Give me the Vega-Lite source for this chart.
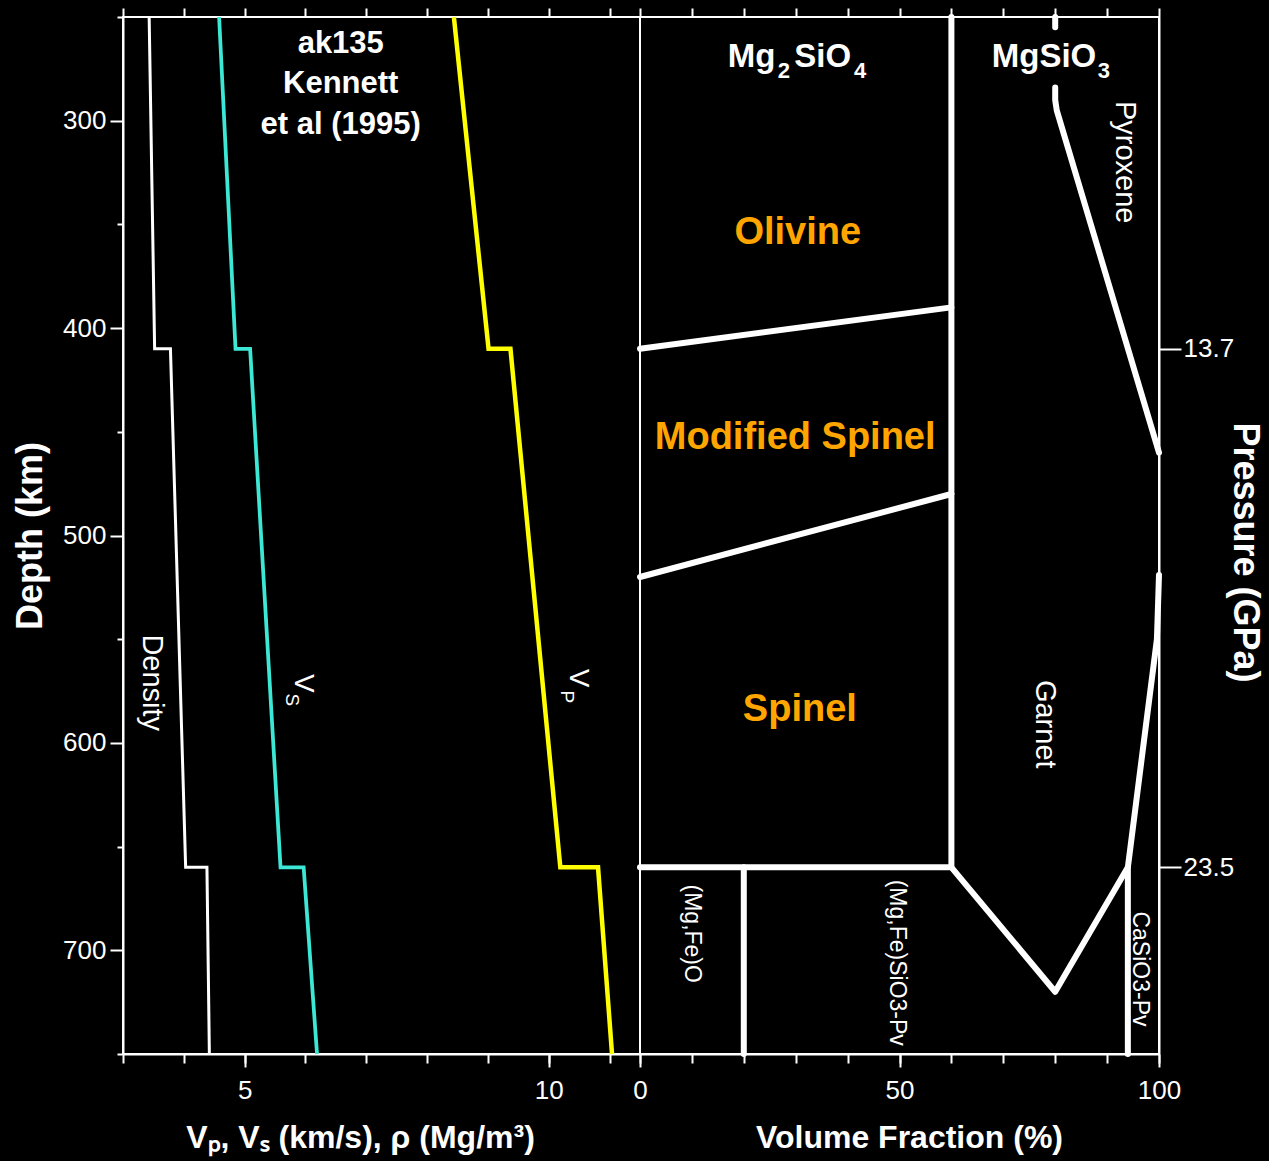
{
  "$schema": "https://vega.github.io/schema/vega-lite/v6.json",
  "background": "black",
  "padding": {"left": 11, "top": 6, "right": 8, "bottom": 8},
  "spacing": 0,
  "bounds": "flush",
  "datasets": {
    "profiles": [
      {"s": "Density", "o": 1, "x": 3.43, "d": 250},
      {"s": "Density", "o": 2, "x": 3.52, "d": 410},
      {"s": "Density", "o": 3, "x": 3.78, "d": 410},
      {"s": "Density", "o": 4, "x": 4.03, "d": 660},
      {"s": "Density", "o": 5, "x": 4.38, "d": 660},
      {"s": "Density", "o": 6, "x": 4.42, "d": 750},
      {"s": "Vs", "o": 1, "x": 4.58, "d": 250},
      {"s": "Vs", "o": 2, "x": 4.85, "d": 410},
      {"s": "Vs", "o": 3, "x": 5.09, "d": 410},
      {"s": "Vs", "o": 4, "x": 5.59, "d": 660},
      {"s": "Vs", "o": 5, "x": 5.97, "d": 660},
      {"s": "Vs", "o": 6, "x": 6.19, "d": 750},
      {"s": "Vp", "o": 1, "x": 8.44, "d": 250},
      {"s": "Vp", "o": 2, "x": 9.01, "d": 410},
      {"s": "Vp", "o": 3, "x": 9.37, "d": 410},
      {"s": "Vp", "o": 4, "x": 10.19, "d": 660},
      {"s": "Vp", "o": 5, "x": 10.81, "d": 660},
      {"s": "Vp", "o": 6, "x": 11.04, "d": 750}
    ],
    "phase": [
      {"g": "A", "o": 1, "x": 0, "d": 660},
      {"g": "A", "o": 2, "x": 60, "d": 660},
      {"g": "A", "o": 3, "x": 80, "d": 720},
      {"g": "A", "o": 4, "x": 94, "d": 660},
      {"g": "A", "o": 5, "x": 99.6, "d": 550},
      {"g": "A", "o": 6, "x": 100, "d": 519},
      {"g": "B", "o": 1, "x": 60, "d": 250},
      {"g": "B", "o": 2, "x": 60, "d": 660},
      {"g": "C", "o": 1, "x": 0, "d": 410},
      {"g": "C", "o": 2, "x": 60, "d": 390},
      {"g": "D", "o": 1, "x": 0, "d": 520},
      {"g": "D", "o": 2, "x": 60, "d": 480},
      {"g": "E", "o": 1, "x": 20, "d": 660},
      {"g": "E", "o": 2, "x": 20, "d": 750},
      {"g": "F", "o": 1, "x": 94, "d": 660},
      {"g": "F", "o": 2, "x": 94, "d": 750},
      {"g": "G", "o": 1, "x": 80, "d": 250},
      {"g": "G", "o": 2, "x": 80, "d": 255},
      {"g": "H", "o": 1, "x": 80, "d": 284},
      {"g": "H", "o": 2, "x": 80, "d": 290},
      {"g": "H", "o": 3, "x": 80.3, "d": 295},
      {"g": "H", "o": 4, "x": 100, "d": 460}
    ]
  },
  "hconcat": [
    {
      "width": 517,
      "height": 1037,
      "layer": [
        {
          "data": {"name": "profiles"},
          "mark": {"type": "line", "strokeJoin": "miter"},
          "encoding": {
            "x": {"field": "x", "type": "quantitative",
              "scale": {"domain": [3, 11.5], "nice": false, "zero": false},
              "axis": {"orient": "bottom", "values": [5, 10], "tickSize": 13, "labelPadding": 10,
                "title": "Vₚ, Vₛ (km/s), ρ (Mg/m³)", "titleX": 237, "titlePadding": 19}},
            "y": {"field": "d", "type": "quantitative",
              "scale": {"domain": [250, 750], "reverse": true, "nice": false, "zero": false},
              "axis": {"orient": "left", "values": [300, 400, 500, 600, 700], "tickSize": 13, "labelPadding": 4,
                "title": "Depth (km)", "titleFontSize": 36, "titlePadding": 13}},
            "order": {"field": "o", "type": "quantitative"},
            "color": {"field": "s", "type": "nominal",
              "scale": {"domain": ["Density", "Vs", "Vp"], "range": ["#ffffff", "#3ce8d5", "#ffff00"]}, "legend": null},
            "strokeWidth": {"field": "s", "type": "nominal",
              "scale": {"domain": ["Density", "Vs", "Vp"], "range": [3, 4.5, 4.5]}, "legend": null}
          }
        },
        {
          "data": {"values": [
            {"x": 6.58, "d": 263, "t": "ak135"},
            {"x": 6.58, "d": 282.5, "t": "Kennett"},
            {"x": 6.58, "d": 302, "t": "et al (1995)"}
          ]},
          "mark": {"type": "text", "fontWeight": "bold", "fontSize": 31, "color": "white", "align": "center", "baseline": "middle"},
          "encoding": {
            "x": {"field": "x", "type": "quantitative",
              "scale": {"domain": [3, 11.5], "nice": false, "zero": false},
              "axis": {"orient": "top", "values": [3, 4, 5, 6, 7, 8, 9, 10, 11], "tickSize": 9, "labels": false, "domain": false, "title": null}},
            "y": {"field": "d", "type": "quantitative",
              "scale": {"domain": [250, 750], "reverse": true, "nice": false, "zero": false},
              "axis": {"orient": "left", "values": [250, 350, 450, 550, 650, 750], "tickSize": 6, "labels": false, "domain": false, "title": null}},
            "text": {"field": "t"}
          }
        },
        {
          "data": {"values": [
            {"x": 3.48, "d": 571, "t": "Density"}
          ]},
          "mark": {"type": "text", "angle": 90, "fontSize": 29, "color": "white", "align": "center", "baseline": "middle"},
          "encoding": {
            "x": {"field": "x", "type": "quantitative",
              "scale": {"domain": [3, 11.5], "nice": false, "zero": false},
              "axis": {"orient": "bottom", "values": [3, 4, 5, 6, 7, 8, 9, 10, 11], "tickSize": 9, "labels": false, "domain": false, "title": null}},
            "y": {"field": "d", "type": "quantitative",
              "scale": {"domain": [250, 750], "reverse": true, "nice": false, "zero": false},
              "axis": null},
            "text": {"field": "t"}
          }
        },
        {
          "data": {"values": [
            {"x": 5.965, "d": 571.3, "t": "V"},
            {"x": 10.486, "d": 568.8, "t": "V"}
          ]},
          "mark": {"type": "text", "angle": 90, "fontSize": 28, "color": "white", "align": "center", "baseline": "middle"},
          "encoding": {
            "x": {"field": "x", "type": "quantitative",
              "scale": {"domain": [3, 11.5], "nice": false, "zero": false}, "axis": null},
            "y": {"field": "d", "type": "quantitative",
              "scale": {"domain": [250, 750], "reverse": true, "nice": false, "zero": false}, "axis": null},
            "text": {"field": "t"}
          }
        },
        {
          "data": {"values": [
            {"x": 5.78, "d": 579.2, "t": "S"},
            {"x": 10.30, "d": 577.8, "t": "P"}
          ]},
          "mark": {"type": "text", "angle": 90, "fontSize": 19, "color": "white", "align": "center", "baseline": "middle"},
          "encoding": {
            "x": {"field": "x", "type": "quantitative",
              "scale": {"domain": [3, 11.5], "nice": false, "zero": false}, "axis": null},
            "y": {"field": "d", "type": "quantitative",
              "scale": {"domain": [250, 750], "reverse": true, "nice": false, "zero": false}, "axis": null},
            "text": {"field": "t"}
          }
        }
      ],
      "resolve": {"axis": {"x": "independent", "y": "independent"}}
    },
    {
      "width": 519,
      "height": 1037,
      "layer": [
        {
          "data": {"name": "phase"},
          "mark": {"type": "line", "stroke": "white", "strokeWidth": 6, "strokeCap": "round", "strokeJoin": "round"},
          "encoding": {
            "x": {"field": "x", "type": "quantitative",
              "scale": {"domain": [0, 100], "nice": false, "zero": false},
              "axis": {"orient": "bottom", "values": [0, 50, 100], "tickSize": 13, "labelPadding": 10,
                "title": "Volume Fraction (%)", "titleX": 269, "titlePadding": 19}},
            "y": {"field": "d", "type": "quantitative",
              "scale": {"domain": [250, 750], "reverse": true, "nice": false, "zero": false},
              "axis": {"orient": "right", "values": [410, 660], "labelExpr": "datum.value == 410 ? '13.7' : '23.5'",
                "tickSize": 22, "labelPadding": 2, "title": "Pressure (GPa)", "titleFontSize": 36, "titlePadding": -8, "titleY": 535}},
            "detail": {"field": "g", "type": "nominal"},
            "order": {"field": "o", "type": "quantitative"}
          }
        },
        {
          "data": {"values": [
            {"x": 21.5, "d": 273.9, "t": "Mg"},
            {"x": 35.2, "d": 273.9, "t": "SiO"},
            {"x": 77.84, "d": 273.9, "t": "MgSiO"}
          ]},
          "mark": {"type": "text", "fontWeight": "bold", "fontSize": 33, "color": "white", "align": "center", "baseline": "alphabetic"},
          "encoding": {
            "x": {"field": "x", "type": "quantitative",
              "scale": {"domain": [0, 100], "nice": false, "zero": false},
              "axis": {"orient": "top", "values": [0, 10, 20, 30, 40, 50, 60, 70, 80, 90, 100], "tickSize": 9, "labels": false, "domain": false, "title": null}},
            "y": {"field": "d", "type": "quantitative",
              "scale": {"domain": [250, 750], "reverse": true, "nice": false, "zero": false},
              "axis": null},
            "text": {"field": "t"}
          }
        },
        {
          "data": {"values": [
            {"x": 27.7, "d": 279.2, "t": "2"},
            {"x": 42.4, "d": 279.2, "t": "4"},
            {"x": 89.4, "d": 279.2, "t": "3"}
          ]},
          "mark": {"type": "text", "fontWeight": "bold", "fontSize": 22, "color": "white", "align": "center", "baseline": "alphabetic"},
          "encoding": {
            "x": {"field": "x", "type": "quantitative",
              "scale": {"domain": [0, 100], "nice": false, "zero": false}, "axis": null},
            "y": {"field": "d", "type": "quantitative",
              "scale": {"domain": [250, 750], "reverse": true, "nice": false, "zero": false}, "axis": null},
            "text": {"field": "t"}
          }
        },
        {
          "data": {"values": [
            {"x": 30.4, "d": 354, "t": "Olivine"},
            {"x": 29.9, "d": 453, "t": "Modified Spinel"},
            {"x": 30.8, "d": 584, "t": "Spinel"}
          ]},
          "mark": {"type": "text", "fontWeight": "bold", "fontSize": 38, "color": "#ffa500", "align": "center", "baseline": "middle"},
          "encoding": {
            "x": {"field": "x", "type": "quantitative",
              "scale": {"domain": [0, 100], "nice": false, "zero": false},
              "axis": {"orient": "bottom", "values": [0, 10, 20, 30, 40, 50, 60, 70, 80, 90, 100], "tickSize": 9, "labels": false, "domain": false, "title": null}},
            "y": {"field": "d", "type": "quantitative",
              "scale": {"domain": [250, 750], "reverse": true, "nice": false, "zero": false},
              "axis": null},
            "text": {"field": "t"}
          }
        },
        {
          "data": {"values": [
            {"x": 93.4, "d": 320, "t": "Pyroxene"},
            {"x": 78, "d": 591, "t": "Garnet"}
          ]},
          "mark": {"type": "text", "angle": 90, "fontSize": 29, "color": "white", "align": "center", "baseline": "middle"},
          "encoding": {
            "x": {"field": "x", "type": "quantitative",
              "scale": {"domain": [0, 100], "nice": false, "zero": false}, "axis": null},
            "y": {"field": "d", "type": "quantitative",
              "scale": {"domain": [250, 750], "reverse": true, "nice": false, "zero": false}, "axis": null},
            "text": {"field": "t"}
          }
        },
        {
          "data": {"values": [
            {"x": 10, "d": 692, "t": "(Mg,Fe)O"},
            {"x": 49.5, "d": 706, "t": "(Mg,Fe)SiO3-Pv"},
            {"x": 96.3, "d": 709, "t": "CaSiO3-Pv"}
          ]},
          "mark": {"type": "text", "angle": 90, "fontSize": 23, "color": "white", "align": "center", "baseline": "middle"},
          "encoding": {
            "x": {"field": "x", "type": "quantitative",
              "scale": {"domain": [0, 100], "nice": false, "zero": false}, "axis": null},
            "y": {"field": "d", "type": "quantitative",
              "scale": {"domain": [250, 750], "reverse": true, "nice": false, "zero": false}, "axis": null},
            "text": {"field": "t"}
          }
        }
      ],
      "resolve": {"axis": {"x": "independent", "y": "independent"}}
    }
  ],
  "config": {
    "font": "Liberation Sans",
    "view": {"stroke": "white", "strokeWidth": 2},
    "axis": {
      "grid": false,
      "domainColor": "white", "domainWidth": 2,
      "tickColor": "white", "tickWidth": 2,
      "labelColor": "white", "labelFontSize": 26, "labelFont": "Liberation Sans", "labelFontWeight": "normal",
      "labelFlush": false, "labelOverlap": false,
      "titleColor": "white", "titleFontSize": 32, "titleFontWeight": "bold", "titleFont": "Liberation Sans"
    }
  }
}
